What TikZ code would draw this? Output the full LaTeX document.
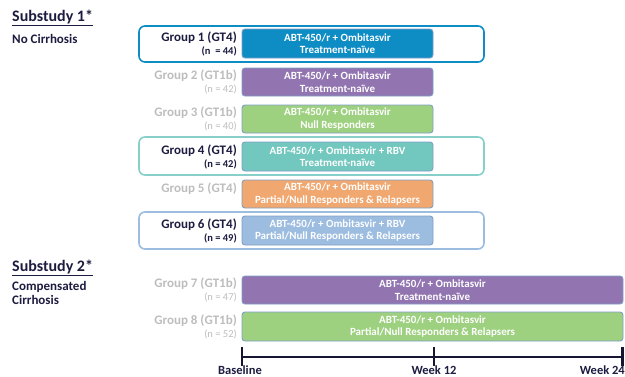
\documentclass[tikz,border=0pt]{standalone}
\usepackage{fontspec}
\setmainfont{Carlito}
\usetikzlibrary{positioning}

\definecolor{navy}{HTML}{1C1C40}
\definecolor{greytxt}{HTML}{BDBDBD}
\definecolor{cblue}{HTML}{0E8CC4}
\definecolor{cpurple}{HTML}{9174B0}
\definecolor{cgreen}{HTML}{9DD07F}
\definecolor{cteal}{HTML}{72C7BE}
\definecolor{corange}{HTML}{F0A870}
\definecolor{clight}{HTML}{9CBCE0}
\definecolor{rimblue}{HTML}{7E9FC6}

\tikzset{
  bar/.style={draw=rimblue, line width=0.9pt, rounded corners=3pt, fill=#1,
    text=white, font=\bfseries\fontsize{11}{12.5}\selectfont, align=center,
    inner sep=0pt},
  frame/.style={draw=#1, line width=1.6pt, rounded corners=6pt, fill=white},
  gname/.style={anchor=east, font=\bfseries\fontsize{13}{14}\selectfont, inner sep=0pt},
  gsize/.style={anchor=east, font=\bfseries\fontsize{10.5}{12}\selectfont, inner sep=0pt},
  dim/.style={text=greytxt},
  dark/.style={text=navy},
  heading/.style={anchor=west, text=navy, font=\bfseries\fontsize{16}{18}\selectfont, inner sep=0pt},
  subhead/.style={anchor=north west, text=navy, font=\bfseries\fontsize{13}{14.5}\selectfont, align=left, inner sep=0pt},
  axis/.style={line width=2.4pt, navy!80!black},
  tick/.style={line width=2.4pt, navy!80!black},
  ticklabel/.style={text=navy, font=\bfseries\fontsize{12.5}{14}\selectfont, inner sep=0pt}
}

\begin{document}
\begin{tikzpicture}[x=1pt, y=-1pt]
\useasboundingbox (0,0) rectangle (625,376);

% highlighted groups get an outer frame
\draw[frame=cblue]  (139,26)  rectangle (484,62);
\draw[frame=cteal!85!white] (139,137) rectangle (484,175);
\draw[frame=clight] (139,212) rectangle (484,249);

% treatment bars
\node[bar=cblue,   minimum width=191pt, minimum height=29pt] (b1) at (337.5,43.5) {ABT-450/r + Ombitasvir\\Treatment-naïve};
\node[bar=cpurple, minimum width=191pt, minimum height=28pt] (b2) at (337.5,82) {ABT-450/r + Ombitasvir\\Treatment-naïve};
\node[bar=cgreen,  minimum width=191pt, minimum height=28pt] (b3) at (337.5,119) {ABT-450/r + Ombitasvir\\Null Responders};
\node[bar=cteal,   minimum width=191pt, minimum height=29pt] (b4) at (337.5,156.5) {ABT-450/r + Ombitasvir + RBV\\Treatment-naïve};
\node[bar=corange, minimum width=191pt, minimum height=28pt] (b5) at (337.5,194) {ABT-450/r + Ombitasvir\\Partial/Null Responders \& Relapsers};
\node[bar=clight,  minimum width=191pt, minimum height=29pt] (b6) at (337.5,230.5) {ABT-450/r + Ombitasvir + RBV\\Partial/Null Responders \& Relapsers};
\node[bar=cpurple, minimum width=381pt, minimum height=28pt] (b7) at (432.5,290) {ABT-450/r + Ombitasvir\\Treatment-naïve};
\node[bar=cgreen,  minimum width=381pt, minimum height=29pt] (b8) at (432.5,326.5) {ABT-450/r + Ombitasvir\\Partial/Null Responders \& Relapsers};

% group labels
\node[gname,dark] (g1) at (237,37.5) {Group 1 (GT4)};
\node[gsize,dark] (n1) at (237,51) {(n\ \ = 44)};
\node[gname,dim]  (g2) at (237,76) {Group 2 (GT1b)};
\node[gsize,dim]  (n2) at (237,89.5) {\mdseries (n = 42)};
\node[gname,dim]  (g3) at (237,113) {Group 3 (GT1b)};
\node[gsize,dim]  (n3) at (237,126.5) {\mdseries (n = 40)};
\node[gname,dark] (g4) at (237,150.5) {Group 4 (GT4)};
\node[gsize,dark] (n4) at (237,164) {(n = 42)};
\node[gname,dim]  (g5) at (237,189) {Group 5 (GT4)};
\node[gname,dark] (g6) at (237,224.5) {Group 6 (GT4)};
\node[gsize,dark] (n6) at (237,238) {(n = 49)};
\node[gname,dim]  (g7) at (237,284) {Group 7 (GT1b)};
\node[gsize,dim]  (n7) at (237,297.5) {\mdseries (n = 47)};
\node[gname,dim]  (g8) at (237,320.5) {Group 8 (GT1b)};
\node[gsize,dim]  (n8) at (237,334) {\mdseries (n = 52)};

% substudy headings
\node[heading] (s1) at (12,18) {\underline{Substudy 1*}};
\node[subhead] (c1) at (12,34) {No Cirrhosis};
\node[heading] (s2) at (12,268) {\underline{Substudy 2*}};
\node[subhead] (c2) at (12,281) {Compensated\\Cirrhosis};

% timeline
\coordinate (t0) at (242,357);
\coordinate (t12) at (434,357);
\coordinate (t24) at (622.5,357);
\draw[axis] (t0) -- (t24);
\foreach \t in {t0,t12,t24}
  \draw[tick] ([yshift=10pt]\t) -- ([yshift=-9pt]\t);
\node[ticklabel] (l0) at (240,370) {Baseline};
\node[ticklabel] (l12) at (434,370) {Week 12};
\node[ticklabel, anchor=east] (l24) at (625,370) {Week 24};
\end{tikzpicture}
\end{document}
